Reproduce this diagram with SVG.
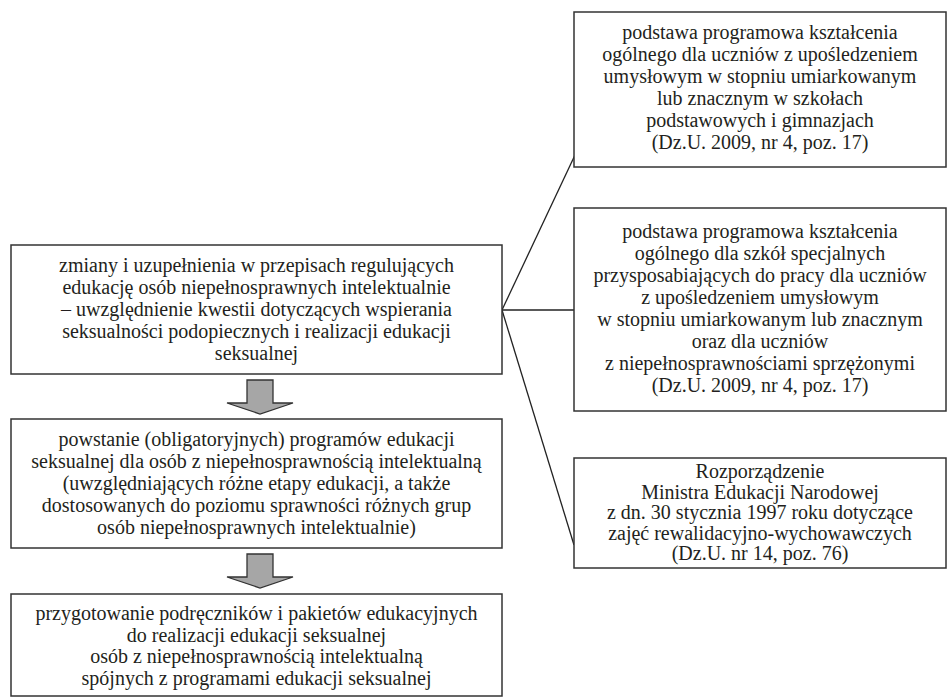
<svg xmlns="http://www.w3.org/2000/svg" width="948" height="698" viewBox="0 0 948 698">
<style>
.box{fill:#fff;stroke:#333;stroke-width:1.5}
.t{font-family:"Liberation Serif","Times New Roman",serif;font-size:20px;fill:#231f20;text-anchor:middle}
.conn{stroke:#222;stroke-width:1.3;fill:none}
.arr{fill:#a6a6a6;stroke:#333;stroke-width:1.3}
</style>
<rect width="948" height="698" fill="#fff"/>
<g id="connectors">
<line class="conn" x1="502" y1="310" x2="575" y2="155"/>
<line class="conn" x1="502" y1="310" x2="574" y2="310"/>
<line class="conn" x1="502" y1="310" x2="574" y2="545"/>
<polygon class="arr" points="247,380 273,380 273,403 293,403 260,414 227,403 247,403"/>
<polygon class="arr" points="247,554 273,554 273,577 293,577 260,588 227,577 247,577"/>
</g>
<g id="left1">
<rect class="box" x="11" y="245" width="491" height="129"/>
<text class="t"><tspan x="256.5" y="271.5">zmiany i uzupełnienia w przepisach regulujących</tspan><tspan x="256.5" y="293.5">edukację osób niepełnosprawnych intelektualnie</tspan><tspan x="256.5" y="315.5">– uwzględnienie kwestii dotyczących wspierania</tspan><tspan x="256.5" y="337.5">seksualności podopiecznych i realizacji edukacji</tspan><tspan x="256.5" y="359.5">seksualnej</tspan></text>
</g>
<g id="left2">
<rect class="box" x="11" y="419" width="491" height="129"/>
<text class="t"><tspan x="256.5" y="445.5">powstanie (obligatoryjnych) programów edukacji</tspan><tspan x="256.5" y="467.5">seksualnej dla osób z niepełnosprawnością intelektualną</tspan><tspan x="256.5" y="489.5">(uwzględniających różne etapy edukacji, a także</tspan><tspan x="256.5" y="511.5">dostosowanych do poziomu sprawności różnych grup</tspan><tspan x="256.5" y="533.5">osób niepełnosprawnych intelektualnie)</tspan></text>
</g>
<g id="left3">
<rect class="box" x="11" y="594" width="491" height="102"/>
<text class="t"><tspan x="256.5" y="620">przygotowanie podręczników i pakietów edukacyjnych</tspan><tspan x="256.5" y="641.5">do realizacji edukacji seksualnej</tspan><tspan x="256.5" y="663">osób z niepełnosprawnością intelektualną</tspan><tspan x="256.5" y="684.5">spójnych z programami edukacji seksualnej</tspan></text>
</g>
<g id="right1">
<rect class="box" x="574" y="12" width="372" height="155"/>
<text class="t"><tspan x="760" y="39">podstawa programowa kształcenia</tspan><tspan x="760" y="61">ogólnego dla uczniów z upośledzeniem</tspan><tspan x="760" y="83">umysłowym w stopniu umiarkowanym</tspan><tspan x="760" y="105">lub znacznym w szkołach</tspan><tspan x="760" y="127">podstawowych i gimnazjach</tspan><tspan x="760" y="149">(Dz.U. 2009, nr 4, poz. 17)</tspan></text>
</g>
<g id="right2">
<rect class="box" x="574" y="208" width="372" height="203"/>
<text class="t"><tspan x="760" y="238">podstawa programowa kształcenia</tspan><tspan x="760" y="260">ogólnego dla szkół specjalnych</tspan><tspan x="760" y="282">przysposabiających do pracy dla uczniów</tspan><tspan x="760" y="304">z upośledzeniem umysłowym</tspan><tspan x="760" y="326">w stopniu umiarkowanym lub znacznym</tspan><tspan x="760" y="348">oraz dla uczniów</tspan><tspan x="760" y="370">z niepełnosprawnościami sprzężonymi</tspan><tspan x="760" y="392">(Dz.U. 2009, nr 4, poz. 17)</tspan></text>
</g>
<g id="right3">
<rect class="box" x="574" y="458" width="372" height="110"/>
<text class="t"><tspan x="760" y="478">Rozporządzenie</tspan><tspan x="760" y="498.5">Ministra Edukacji Narodowej</tspan><tspan x="760" y="519">z dn. 30 stycznia 1997 roku dotyczące</tspan><tspan x="760" y="539.5">zajęć rewalidacyjno-wychowawczych</tspan><tspan x="760" y="560">(Dz.U. nr 14, poz. 76)</tspan></text>
</g>
</svg>
